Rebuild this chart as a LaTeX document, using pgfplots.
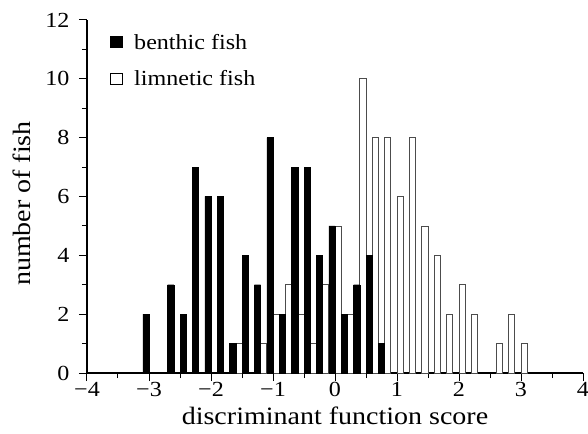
\documentclass[border=0pt]{standalone}
\usepackage{fontspec}
\setmainfont{Liberation Serif}[FakeStretch=1.12]
\usepackage{pgfplots}
\pgfplotsset{compat=1.18}
\begin{document}
\begin{tikzpicture}
\begin{axis}[
  scale only axis, width=496pt, height=353pt,
  xmin=-4, xmax=4, ymin=0, ymax=12,
  axis x line*=bottom, axis y line*=left,
  axis line style={line width=1.6pt},
  xtick={-4,...,4}, xticklabels={−4,−3,−2,−1,0,1,2,3,4},
  minor xtick={-3.5,-2.5,...,3.5},
  ytick={0,2,...,12}, yticklabels={0,2,4,6,8,10,12},
  minor ytick={1,3,...,11},
  tick style={black, line width=1pt},
  major tick length=8pt, minor tick length=5pt,
  tick align=outside,
  ticklabel style={font=\fontsize{21.5}{23}\selectfont},
  yticklabel style={xshift=-6pt},
  xticklabel style={yshift=2pt},
  xlabel={discriminant function score}, ylabel={number of fish},
  label style={font=\fontsize{25}{27}\selectfont},
  xlabel style={at={(axis description cs:0.5,-0.12)}, anchor=center},
  ylabel style={at={(axis description cs:-0.131,0.48)}, anchor=center},
  legend style={draw=none, fill=none, at={(axis cs:-3.64,11.6)}, anchor=north west,
    font=\fontsize{21.5}{23}\selectfont, row sep=16pt, inner sep=0pt},
  legend cell align=left,
  reverse legend,
]
\addplot[ybar, bar width=0.1, bar shift=0pt, fill=white, draw=black!70, line width=0.7pt,
  legend image code/.code={\draw[fill=white, draw=black, line width=0.7pt] (0pt,-5pt) rectangle (12pt,6pt); \path (22pt,0pt);}]
coordinates {(-1.55,1) (-1.15,1) (-0.95,2) (-0.75,3) (-0.55,2) (-0.35,1) (-0.15,3) (0.05,5) (0.25,2) (0.45,10) (0.65,8) (0.85,8) (1.05,6) (1.25,8) (1.45,5) (1.65,4) (1.85,2) (2.05,3) (2.25,2) (2.65,1) (2.85,2) (3.05,1)};
\addlegendentry{limnetic fish}
\addplot[ybar, bar width=0.1, bar shift=0pt, fill=black, draw=black, line width=0.4pt,
  legend image code/.code={\fill[black] (0pt,-5pt) rectangle (12pt,6pt); \path (22pt,0pt);}]
coordinates {(-3.05,2) (-2.65,3) (-2.45,2) (-2.25,7) (-2.05,6) (-1.85,6) (-1.65,1) (-1.45,4) (-1.25,3) (-1.05,8) (-0.85,2) (-0.65,7) (-0.45,7) (-0.25,4) (-0.05,5) (0.15,2) (0.35,3) (0.55,4) (0.75,1)};
\addlegendentry{benthic fish}
\end{axis}
\pgfresetboundingbox
\path[use as bounding box] ([xshift=-87pt,yshift=-60pt]current axis.south west) rectangle ([xshift=5pt,yshift=20pt]current axis.north east);
\end{tikzpicture}
\end{document}
